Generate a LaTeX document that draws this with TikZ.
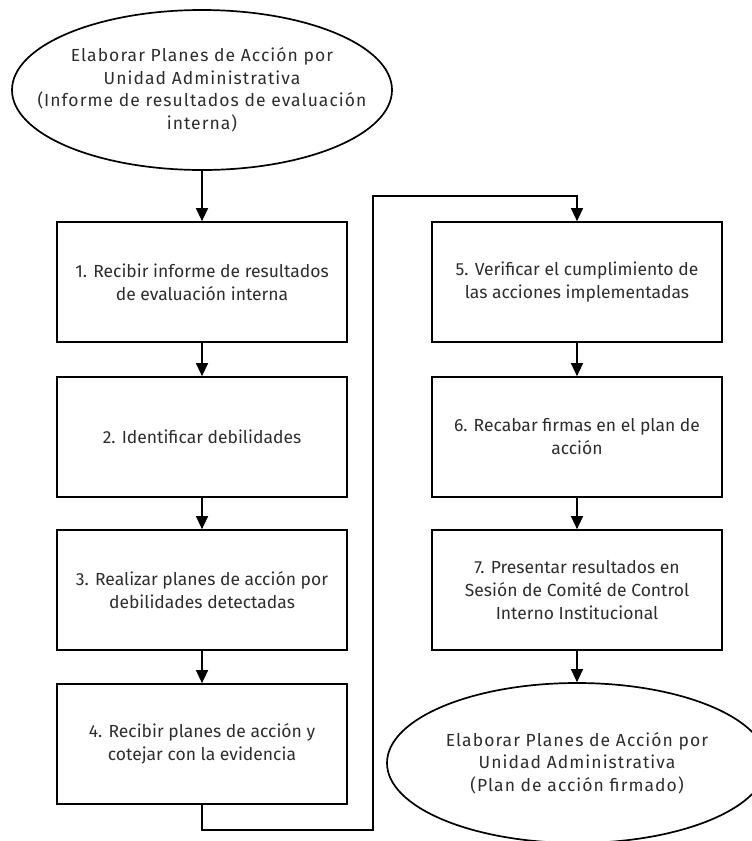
\documentclass[tikz,border=0pt]{standalone}
\usepackage{fontspec}
\setmainfont{Fira Sans}
\newfontfamily\espaciada[LetterSpace=6]{Fira Sans}
\usepackage{tikz}
\usetikzlibrary{arrows.meta,shapes.geometric}
\definecolor{TintaGris}{RGB}{45,45,45}

\begin{document}
\begin{tikzpicture}[x=1pt,y=-1pt,>={Triangle[length=13pt,width=12pt]},
    paso/.style={draw=black,line width=1.7pt,minimum width=290pt,minimum height=120pt,
      align=center,text=TintaGris,font=\fontsize{17.5}{23}\selectfont},
    extremo/.style={ellipse,draw=black,line width=1.7pt,align=center,inner sep=-60pt,
      minimum width=380pt,minimum height=160pt,text=TintaGris,
      font=\espaciada\fontsize{17.5}{22.5}\selectfont},
    flecha/.style={->,line width=1.3pt}]
  \useasboundingbox (0,0) rectangle (752,841);
  % inicio y fin
  \node[extremo] (inicio) at (202,90)
    {Elaborar Planes de Acción por\\Unidad Administrativa\\(Informe de resultados de evaluación\\interna)};
  \node[extremo] (fin) at (577,763)
    {Elaborar Planes de Acción por\\Unidad Administrativa\\(Plan de acción firmado)};
  % columna izquierda
  \node[paso] (p1) at (202,282) {1. Recibir informe de resultados\\de evaluación interna};
  \node[paso] (p2) at (202,437) {2. Identificar debilidades};
  \node[paso] (p3) at (202,590) {3. Realizar planes de acción por\\debilidades detectadas};
  \node[paso] (p4) at (202,744) {4. Recibir planes de acción y\\cotejar con la evidencia};
  % columna derecha
  \node[paso] (p5) at (577,282) {5. Verificar el cumplimiento de\\las acciones implementadas};
  \node[paso] (p6) at (577,437) {6. Recabar firmas en el plan de\\acción};
  \node[paso] (p7) at (577,590) {7. Presentar resultados en\\Sesión de Comité de Control\\Interno Institucional};
  \coordinate (vueltaA) at (373,830);
  \coordinate (vueltaB) at (373,196);
  \draw[flecha] (inicio) -- (p1);
  \draw[flecha] (p1) -- (p2);
  \draw[flecha] (p2) -- (p3);
  \draw[flecha] (p3) -- (p4);
  \draw[flecha] (p4.south) |- (vueltaA) -- (vueltaB) -| (p5.north);
  \draw[flecha] (p5) -- (p6);
  \draw[flecha] (p6) -- (p7);
  \draw[flecha] (p7.south) -- (p7.south |- fin.north);
\end{tikzpicture}
\end{document}
